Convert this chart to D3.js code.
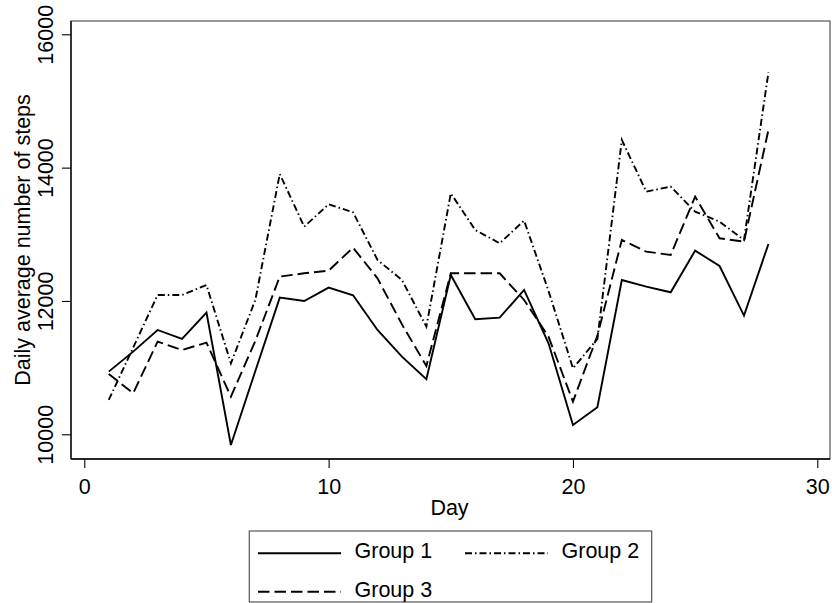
<!DOCTYPE html>
<html>
<head>
<meta charset="utf-8">
<script src="https://cdn.jsdelivr.net/npm/d3@7/dist/d3.min.js"></script>
<style>
    body { margin: 0; background: #fff; }
    text { font-family: "Liberation Sans", Arial, sans-serif; fill: #000; }
</style>
</head>
<body>
<div id="chart"></div>
<script>
const [svgW, svgH] = [832, 603];

const days = d3.range(1, 29);
const group1 = [10940, 11240, 11565, 11430, 11825, 9840, 10950, 12050, 12000, 12200, 12085, 11565, 11165, 10825,
    12390, 11725, 11750, 12165, 11365, 10140, 10405, 12315, 12215, 12130, 12755, 12525, 11780, 12855];
const group2 = [10515, 11300, 12090, 12090, 12240, 11065, 12015, 13905, 13115, 13450, 13330, 12615, 12315, 11615,
    13615, 13065, 12865, 13205, 12150, 10990, 11430, 14415, 13640, 13715, 13340, 13190, 12915, 15430];
const group3 = [10905, 10615, 11390, 11265, 11375, 10565, 11400, 12365, 12415, 12455, 12800, 12340, 11650, 11025,
    12415, 12415, 12415, 12015, 11465, 10490, 11480, 12915, 12740, 12690, 13565, 12940, 12890, 14565];

const xTicks = [0, 10, 20, 30];
const yTicks = [10000, 12000, 14000, 16000];
const legendLabels = ["Group 1", "Group 2", "Group 3"];

const series = [
    {name: legendLabels[0], values: group1, dash: null},
    {name: legendLabels[1], values: group2, dash: "7,3,1.5,3"},
    {name: legendLabels[2], values: group3, dash: "11.5,5"}
];

const PLOT = {left: 71, top: 21, right: 830, bottom: 459};

const x = d3.scaleLinear().domain([0, 30]).range([84.3, 817.3]);
const y = d3.scaleLinear().domain([10000, 16000]).range([434.3, 34.3]);

function initSVG() {
    return d3.select("#chart").append("svg").attr("width", svgW).attr("height", svgH);
}

function renderFrame(svg) {
    svg.append("rect")
        .attr("x", PLOT.left).attr("y", PLOT.top)
        .attr("width", PLOT.right - PLOT.left).attr("height", PLOT.bottom - PLOT.top)
        .attr("fill", "none").attr("stroke", "#555").attr("stroke-width", 1.2);
}

function renderAxes(svg) {
    let xAxis = d3.axisBottom(x).tickValues(xTicks).tickSize(9).tickPadding(7);
    let gx = svg.append("g").attr("transform", "translate(0," + PLOT.bottom + ")").call(xAxis);
    gx.select(".domain").remove();
    gx.append("line").attr("x1", PLOT.left).attr("x2", PLOT.right).attr("stroke", "#000").attr("stroke-width", 1.3);
    gx.selectAll(".tick line").attr("stroke", "#000").attr("stroke-width", 1.1);
    gx.selectAll(".tick text").attr("font-size", 21.5).attr("dy", null).attr("y", 35);

    let yAxis = d3.axisLeft(y).tickValues(yTicks).tickSize(9).tickFormat(d3.format("d"));
    let gy = svg.append("g").attr("transform", "translate(" + PLOT.left + ",0)").call(yAxis);
    gy.select(".domain").remove();
    gy.append("line").attr("y1", PLOT.top).attr("y2", PLOT.bottom).attr("stroke", "#000").attr("stroke-width", 1.3);
    gy.selectAll(".tick line").attr("stroke", "#000").attr("stroke-width", 1.1);
    gy.selectAll(".tick text")
        .attr("font-size", 21.5)
        .attr("x", null).attr("dy", null)
        .attr("text-anchor", "middle")
        .attr("transform", "translate(-18.3,0) rotate(-90)");

    svg.append("text").attr("x", (PLOT.left + PLOT.right) / 2 - 1).attr("y", 515)
        .attr("text-anchor", "middle").attr("font-size", 21.5).text("Day");

    svg.append("text").attr("transform", "translate(29.5," + (PLOT.top + PLOT.bottom) / 2 + ") rotate(-90)")
        .attr("text-anchor", "middle").attr("font-size", 21.5).text("Daily average number of steps");
}

function renderLines(svg) {
    let line = d3.line()
        .x(function (d, i) {
            return x(days[i]);
        }).y(function (d) {
            return y(d);
        });

    svg.append("g").selectAll("path").data(series).enter().append("path")
        .attr("d", function (d) {
            return line(d.values);
        })
        .attr("fill", "none").attr("stroke", "#000").attr("stroke-width", 1.9)
        .attr("stroke-linejoin", "miter")
        .attr("stroke-dasharray", function (d) {
            return d.dash;
        });
}

function renderLegend(svg) {
    let g = svg.append("g");
    g.append("rect").attr("x", 249.3).attr("y", 531).attr("width", 402.4).attr("height", 71)
        .attr("fill", "#fff").attr("stroke", "#555").attr("stroke-width", 1.2);

    let slots = [{x: 258, y: 553.3}, {x: 465, y: 553.3}, {x: 258, y: 591.7}];
    let items = g.selectAll("g.item").data(series).enter().append("g").attr("class", "item")
        .attr("transform", function (d, i) {
            return "translate(" + slots[i].x + "," + slots[i].y + ")";
        });
    items.append("line").attr("x1", 0).attr("x2", 83)
        .attr("stroke", "#000").attr("stroke-width", 1.9)
        .attr("stroke-dasharray", function (d) {
            return d.dash;
        });
    items.append("text").attr("x", 96.5).attr("y", 5).attr("font-size", 21.5)
        .text(function (d) {
            return d.name;
        });
}

function main() {
    let svg = initSVG();
    renderFrame(svg);
    renderLines(svg);
    renderAxes(svg);
    renderLegend(svg);
}

main();
</script>
</body>
</html>
